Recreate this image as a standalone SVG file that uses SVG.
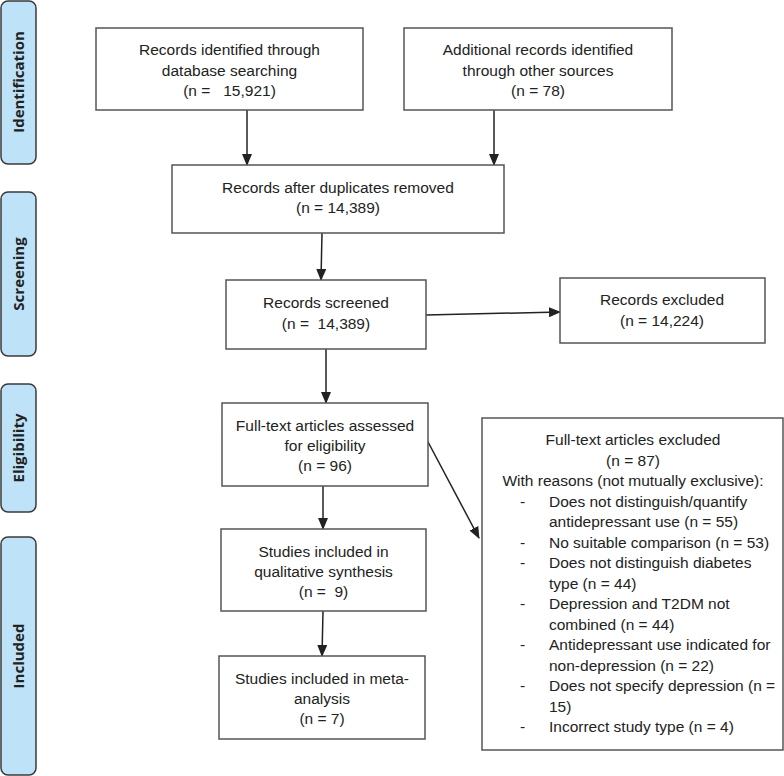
<svg xmlns="http://www.w3.org/2000/svg" width="784" height="776" viewBox="0 0 784 776">
<style>
.box{fill:#fff;stroke:#555;stroke-width:1.5}
.side{fill:#BEE3F8;stroke:#3a3a3a;stroke-width:1.5}
.t{font-family:"Liberation Sans",Arial,sans-serif;font-size:15.5px;fill:#222;text-anchor:middle}
.l{font-family:"Liberation Sans",Arial,sans-serif;font-size:15.5px;fill:#222}
.s{font-family:"Open Sans","Liberation Sans",sans-serif;font-size:15px;font-weight:bold;fill:#222;text-anchor:middle}
.c{stroke:#222;stroke-width:1.5;fill:none;marker-end:url(#ah)}
</style>
<defs>
<marker id="ah" markerUnits="userSpaceOnUse" markerWidth="12" markerHeight="10" refX="11" refY="5" orient="auto">
<path d="M0,0 L12,5 L0,10 Z" fill="#222"/>
</marker>
</defs>
<rect width="784" height="776" fill="#fff"/>
<g id="side-identification"><rect class="side" x="1" y="1" width="35" height="163" rx="7"/><text class="s" transform="translate(24,82) rotate(-90)">Identification</text></g>
<g id="side-screening"><rect class="side" x="1" y="192" width="35" height="164" rx="7"/><text class="s" transform="translate(24,274) rotate(-90)">Screening</text></g>
<g id="side-eligibility"><rect class="side" x="1" y="384" width="35" height="128" rx="7"/><text class="s" transform="translate(24,448) rotate(-90)">Eligibility</text></g>
<g id="side-included"><rect class="side" x="1" y="537" width="35" height="238" rx="7"/><text class="s" transform="translate(24,656) rotate(-90)">Included</text></g>

<g id="connectors">
<line class="c" x1="247" y1="110" x2="247" y2="165"/>
<line class="c" x1="494" y1="110" x2="494" y2="165"/>
<line class="c" x1="322" y1="233" x2="321" y2="280"/>
<line class="c" x1="426" y1="315" x2="560" y2="312"/>
<line class="c" x1="326" y1="349" x2="326" y2="403"/>
<line class="c" x1="427" y1="440" x2="479" y2="538"/>
<line class="c" x1="323" y1="486" x2="323" y2="529"/>
<line class="c" x1="323" y1="611" x2="322" y2="656"/>
</g>

<g id="n1"><rect class="box" x="96" y="28" width="267" height="82"/>
<text class="t" x="229.5" y="55">Records identified through</text>
<text class="t" x="229.5" y="76">database searching</text>
<text class="t" x="229.5" y="96" xml:space="preserve">(n =   15,921)</text></g>

<g id="n2"><rect class="box" x="404" y="28" width="268" height="82"/>
<text class="t" x="538" y="55">Additional records identified</text>
<text class="t" x="538" y="76">through other sources</text>
<text class="t" x="538" y="96">(n = 78)</text></g>

<g id="n3"><rect class="box" x="172" y="165" width="332" height="68"/>
<text class="t" x="338" y="193">Records after duplicates removed</text>
<text class="t" x="338" y="213">(n = 14,389)</text></g>

<g id="n4"><rect class="box" x="226" y="280" width="200" height="69"/>
<text class="t" x="326" y="308">Records screened</text>
<text class="t" x="326" y="329" xml:space="preserve">(n =  14,389)</text></g>

<g id="n5"><rect class="box" x="560" y="278" width="205" height="65"/>
<text class="t" x="662" y="305">Records excluded</text>
<text class="t" x="662" y="326">(n = 14,224)</text></g>

<g id="n6"><rect class="box" x="222" y="403" width="206" height="83"/>
<text class="t" x="325" y="431">Full-text articles assessed</text>
<text class="t" x="325" y="451">for eligibility</text>
<text class="t" x="325" y="471">(n = 96)</text></g>

<g id="n7"><rect class="box" x="482" y="418" width="301" height="332"/>
<text class="t" x="633" y="445">Full-text articles excluded</text>
<text class="t" x="633" y="466">(n = 87)</text>
<text class="t" x="633" y="486">With reasons (not mutually exclusive):</text>
<g class="l">
<text x="520" y="506.5">-</text><text x="549" y="506.5">Does not distinguish/quantify</text>
<text x="549" y="527">antidepressant use (n = 55)</text>
<text x="520" y="547.5">-</text><text x="549" y="547.5">No suitable comparison (n = 53)</text>
<text x="520" y="568">-</text><text x="549" y="568">Does not distinguish diabetes</text>
<text x="549" y="588.5">type (n = 44)</text>
<text x="520" y="609">-</text><text x="549" y="609">Depression and T2DM not</text>
<text x="549" y="629.5">combined (n = 44)</text>
<text x="520" y="650">-</text><text x="549" y="650">Antidepressant use indicated for</text>
<text x="549" y="670.5">non-depression (n = 22)</text>
<text x="520" y="691">-</text><text x="549" y="691">Does not specify depression (n =</text>
<text x="549" y="711.5">15)</text>
<text x="520" y="732">-</text><text x="549" y="732">Incorrect study type (n = 4)</text>
</g></g>

<g id="n8"><rect class="box" x="221" y="529" width="205" height="82"/>
<text class="t" x="323.5" y="557">Studies included in</text>
<text class="t" x="323.5" y="577">qualitative synthesis</text>
<text class="t" x="323.5" y="597" xml:space="preserve">(n =  9)</text></g>

<g id="n9"><rect class="box" x="219" y="656" width="206" height="83"/>
<text class="t" x="322" y="684">Studies included in meta-</text>
<text class="t" x="322" y="704">analysis</text>
<text class="t" x="322" y="724">(n = 7)</text></g>
</svg>
